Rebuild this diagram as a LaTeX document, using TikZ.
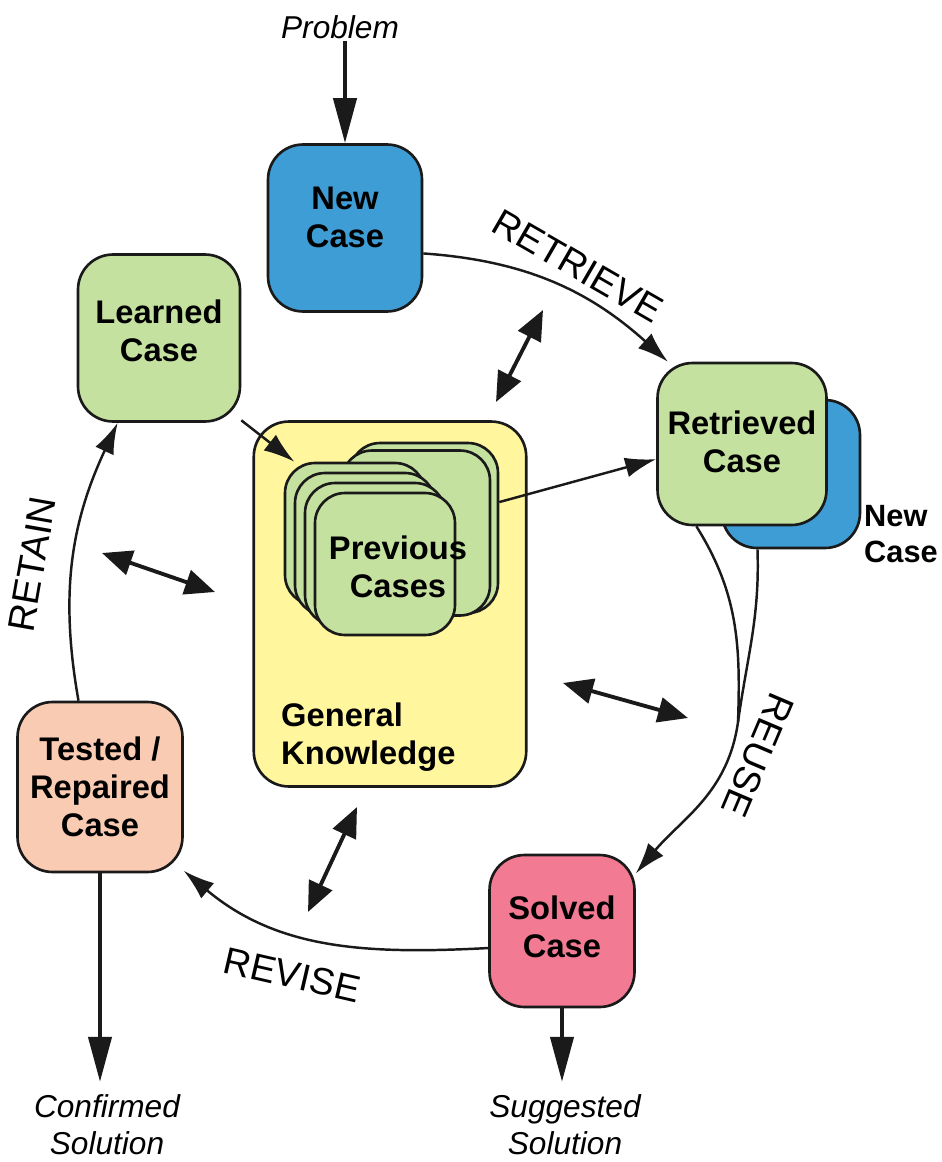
\documentclass[tikz,border=0pt]{standalone}
\usepackage{fontspec}
\setmainfont{Liberation Sans}
\usetikzlibrary{arrows.meta, positioning, calc}
\definecolor{cbblue}{HTML}{3E9DD4}
\definecolor{cbgreen}{HTML}{C5E1A0}
\definecolor{cbyellow}{HTML}{FFF69E}
\definecolor{cbsalmon}{HTML}{F9CBB3}
\definecolor{cbpink}{HTML}{F27A93}
\definecolor{cbline}{HTML}{1A1A1A}

\begin{document}
\begin{tikzpicture}[
  x=0.02cm, y=-0.02cm,
  boxtext/.style={font=\fontsize{18.6}{21.5}\selectfont\bfseries, align=center},
  casebox/.style={rectangle, draw=cbline, fill=#1, rounded corners=0.7cm, line width=1.5pt, minimum width=3.2cm, minimum height=3.3cm, boxtext, inner sep=2pt},
  card/.style={rectangle, draw=cbline, fill=cbgreen, rounded corners=0.6cm, line width=1.5pt, minimum width=2.8cm, minimum height=2.84cm},
  io/.style={font=\fontsize{18}{21}\selectfont\itshape, align=center, inner sep=1pt},
  phase/.style={font=\fontsize{21.5}{24}\selectfont, inner sep=1pt},
  link/.style={line width=1.4pt, cbline},
  arr/.style={link, -{Latex[length=0.62cm, width=0.4cm]}},
  flow/.style={-{Triangle[length=0.9cm, width=0.46cm]}, line width=2.4pt, cbline},
  dbl/.style={{Triangle[length=0.6cm, width=0.5cm]}-{Triangle[length=0.6cm, width=0.5cm]}, line width=2.2pt, cbline},
]
  \useasboundingbox (0,0) rectangle (941,1162);

  % General knowledge
  \node[casebox=cbyellow, minimum width=5.45cm, minimum height=7.3cm] (gk) at (390,604) {};
  \node[boxtext, align=left, anchor=west] (gktext) at (275,737) {General\\Knowledge};

  % Stack of previous cases
  \node[card, minimum width=2.96cm, minimum height=3.4cm] (back2) at (424,528) {};
  \node[card, minimum width=2.96cm, minimum height=3.3cm] (back1) at (416,533) {};
  \node[card] (card3) at (355,534) {};
  \node[card] (card2) at (365,544) {};
  \node[card] (card1) at (375,554) {};
  \node[card] (card0) at (385,564) {};
  \node[boxtext] (prevtext) at (398,567) {Previous\\Cases};

  % Cycle cases
  \node[casebox=cbblue, minimum width=3.08cm, minimum height=3.34cm, text depth=0.44cm] (newcase) at (345,228) {New\\Case};
  \node[casebox=cbgreen, minimum width=3.24cm, minimum height=3.34cm, text depth=0.3cm] (learned) at (159,338) {Learned\\Case};
  \node[casebox=cbblue, minimum width=2.76cm, minimum height=2.96cm] (newback) at (791,474) {};
  \node[casebox=cbgreen, minimum width=3.38cm, minimum height=3.24cm, text depth=0.1cm] (retcase) at (742,444) {Retrieved\\Case};
  \node[casebox=cbsalmon, minimum width=3.3cm, minimum height=3.4cm] (tested) at (100,787) {Tested /\\Repaired\\Case};
  \node[casebox=cbpink, minimum width=2.9cm, minimum height=3.04cm, text depth=0.16cm] (solved) at (562,931) {Solved\\Case};
  \node[font=\fontsize{17.5}{20}\selectfont\bfseries, align=left, anchor=west] (newlabel) at (858,534) {New\\Case};

  % Inputs and outputs
  \node[io] (problem) at (340,27) {Problem};
  \node[io] (suggested) at (565,1125) {Suggested\\Solution};
  \node[io] (confirmed) at (107,1125) {Confirmed\\Solution};

  % Phases
  \node[phase, rotate=-30] (retrieve) at (578,266) {RETRIEVE};
  \node[phase, rotate=80] (retain) at (32,564) {RETAIN};
  \node[phase, rotate=-113] (reuse) at (758,755) {REUSE};
  \node[phase, rotate=-13] (revise) at (292,975) {REVISE};

  % Arrows
  \draw[flow] (problem.south -| newcase.north) -- (newcase.north);
  \draw[flow, shorten >=0.22cm] (solved.south) -- (suggested.north -| solved.south);
  \draw[flow, shorten >=0.22cm] (tested.south) -- (confirmed.north -| tested.south);

  \draw[arr] (newcase.-18) to[out=-4, in=138] (retcase.132);
  \coordinate (merge) at (738,722);
  \draw[link] (retcase.-119) to[out=-58, in=88] (merge);
  \draw[link] (newback.-114) to[out=-88, in=82] (merge);
  \draw[arr] (merge) to[out=-98, in=50] (solved.38);
  \draw[arr] (solved.193) to[out=183, in=-40] (tested.-45);
  \draw[arr] (tested.104) to[out=100, in=-115] (learned.-116);
  \draw[arr] (learned.-45) -- (card3.130);
  \draw[arr] (back2.19) -- (retcase.190);

  % Knowledge exchange
  \coordinate (ka1) at (496,402); \coordinate (kb1) at (543,310);
  \coordinate (ka2) at (102,553); \coordinate (kb2) at (215,592);
  \coordinate (ka3) at (563,683); \coordinate (kb3) at (688,718);
  \coordinate (ka4) at (357,807); \coordinate (kb4) at (308,912);
  \foreach \i in {1,...,4}
    \draw[dbl] (ka\i) -- (kb\i);
\end{tikzpicture}
\end{document}
